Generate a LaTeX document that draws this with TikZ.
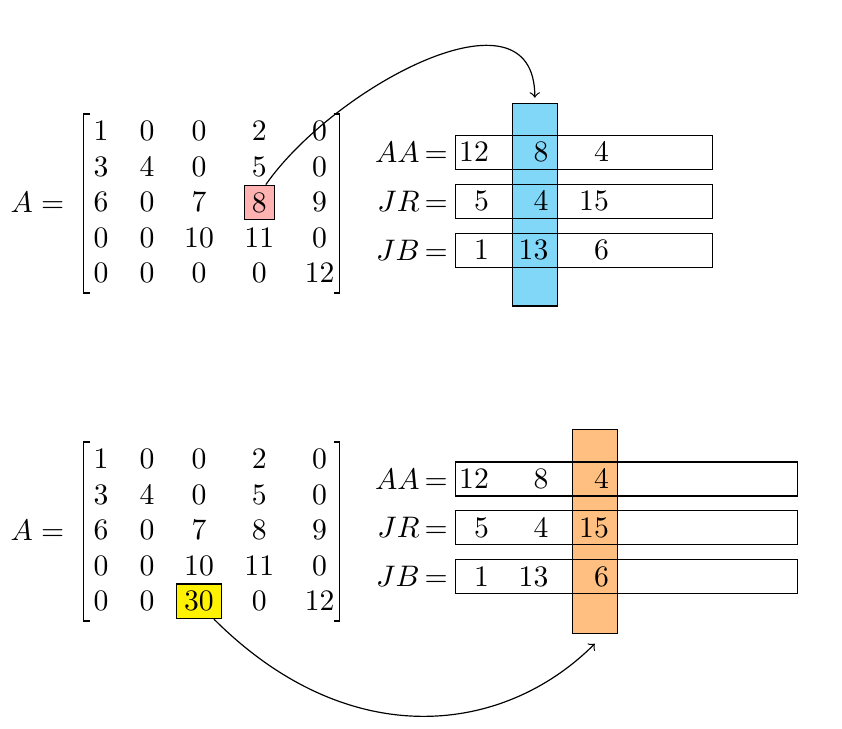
\documentclass[tikz,border=0pt]{standalone}
\usetikzlibrary{calc}
\definecolor{skyb}{RGB}{128,215,248}
\definecolor{orng}{RGB}{255,191,128}
\newcommand{\uu}{0.3367pt}
\tikzset{
  cell/.style={inner sep=2.6pt},
  hlred/.style={cell, draw, fill=red!30},
  hlyel/.style={cell, draw, fill=yellow},
  brk/.style={line width=0.65pt, line join=miter},
  vbox/.style={draw, inner sep=0pt, minimum height=34*\uu},
  bar/.style={draw, inner sep=0pt},
  lbl/.style={inner sep=0pt, anchor=east},
  num/.style={inner sep=0pt, anchor=east},
  arr/.style={->}
}
\begin{document}
\begin{tikzpicture}[x=\uu, y=-\uu]
\useasboundingbox (0,0) rectangle (842,728);

% ---------- top matrix ----------
\node[lbl] (A1) at (64.8,202) {$A=$};
\draw[brk] (89.5,114) -- (83.5,114) -- (83.5,293) -- (89.5,293);
\draw[brk] (333.5,114) -- (339.5,114) -- (339.5,293) -- (333.5,293);
\foreach \v/\x/\c in {1/101/1,0/147/2,0/199/3,2/259.3/4,0/319.6/5}
  \node[cell] (t-1-\c) at (\x,131) {$\v$};
\foreach \v/\x/\c in {3/101/1,4/147/2,0/199/3,5/259.3/4,0/319.6/5}
  \node[cell] (t-2-\c) at (\x,166.5) {$\v$};
\foreach \v/\x/\c in {6/101/1,0/147/2,7/199/3,9/319.6/5}
  \node[cell] (t-3-\c) at (\x,202) {$\v$};
\node[hlred] (t-3-4) at (259.3,202.5) {$8$};
\foreach \v/\x/\c in {0/101/1,0/147/2,10/199/3,11/259.3/4,0/319.6/5}
  \node[cell] (t-4-\c) at (\x,237.5) {$\v$};
\foreach \v/\x/\c in {0/101/1,0/147/2,0/199/3,0/259.3/4,12/319.6/5}
  \node[cell] (t-5-\c) at (\x,273) {$\v$};

% ---------- top arrays ----------
\node[bar, fill=skyb, minimum width=45*\uu, minimum height=202.7*\uu] (bl) at (534.8,204.7) {};
\node[vbox, minimum width=256.6*\uu] (aa1) at (584,152.3) {};
\node[vbox, minimum width=256.6*\uu] (jr1) at (584,201.3) {};
\node[vbox, minimum width=256.6*\uu] (jb1) at (584,250.2) {};
\node[lbl] (laa1) at (448.2,152.3) {$AA\mkern-2mu=$};
\node[lbl] (ljr1) at (448.2,201.3) {$JR\mkern-2mu=$};
\node[lbl] (ljb1) at (448.2,250.2) {$JB\mkern-2mu=$};
\foreach \v/\x/\c in {12/489.5/1,8/549/2,4/609.5/3}
  \node[num] (aa1-\c) at (\x,152.3) {$\v$};
\foreach \v/\x/\c in {5/489.5/1,4/549/2,15/609.5/3}
  \node[num] (jr1-\c) at (\x,201.3) {$\v$};
\foreach \v/\x/\c in {1/489.5/1,13/549/2,6/609.5/3}
  \node[num] (jb1-\c) at (\x,250.2) {$\v$};

\draw[arr] (t-3-4.70) .. controls +(68.8,-98.3) and +(0,-118) .. ([yshift=1.7pt]bl.north);

% ---------- bottom matrix ----------
\node[lbl] (A2) at (64.8,530) {$A=$};
\draw[brk] (89.5,442) -- (83.5,442) -- (83.5,621) -- (89.5,621);
\draw[brk] (333.5,442) -- (339.5,442) -- (339.5,621) -- (333.5,621);
\foreach \v/\x/\c in {1/101/1,0/147/2,0/199/3,2/259.3/4,0/319.6/5}
  \node[cell] (b-1-\c) at (\x,459) {$\v$};
\foreach \v/\x/\c in {3/101/1,4/147/2,0/199/3,5/259.3/4,0/319.6/5}
  \node[cell] (b-2-\c) at (\x,494.5) {$\v$};
\foreach \v/\x/\c in {6/101/1,0/147/2,7/199/3,8/259.3/4,9/319.6/5}
  \node[cell] (b-3-\c) at (\x,530) {$\v$};
\foreach \v/\x/\c in {0/101/1,0/147/2,10/199/3,11/259.3/4,0/319.6/5}
  \node[cell] (b-4-\c) at (\x,565.5) {$\v$};
\foreach \v/\x/\c in {0/101/1,0/147/2,0/259.3/4,12/319.6/5}
  \node[cell] (b-5-\c) at (\x,601) {$\v$};
\node[hlyel] (b-5-3) at (198.9,601.2) {$30$};

% ---------- bottom arrays ----------
\node[bar, fill=orng, minimum width=45*\uu, minimum height=204*\uu] (or2) at (594.8,531.3) {};
\node[vbox, minimum width=341.6*\uu] (aa2) at (626.5,479) {};
\node[vbox, minimum width=341.6*\uu] (jr2) at (626.5,527.8) {};
\node[vbox, minimum width=341.6*\uu] (jb2) at (626.5,576.8) {};
\node[lbl] (laa2) at (448.2,479) {$AA\mkern-2mu=$};
\node[lbl] (ljr2) at (448.2,527.8) {$JR\mkern-2mu=$};
\node[lbl] (ljb2) at (448.2,576.8) {$JB\mkern-2mu=$};
\foreach \v/\x/\c in {12/489.5/1,8/549/2,4/609.5/3}
  \node[num] (aa2-\c) at (\x,479) {$\v$};
\foreach \v/\x/\c in {5/489.5/1,4/549/2,15/609.5/3}
  \node[num] (jr2-\c) at (\x,527.8) {$\v$};
\foreach \v/\x/\c in {1/489.5/1,13/549/2,6/609.5/3}
  \node[num] (jb2-\c) at (\x,576.8) {$\v$};

\draw[arr] (b-5-3.-50) .. controls +(134.3,134.3) and +(-91.9,91.9) .. ([yshift=-3.3pt]or2.south);
\end{tikzpicture}
\end{document}
